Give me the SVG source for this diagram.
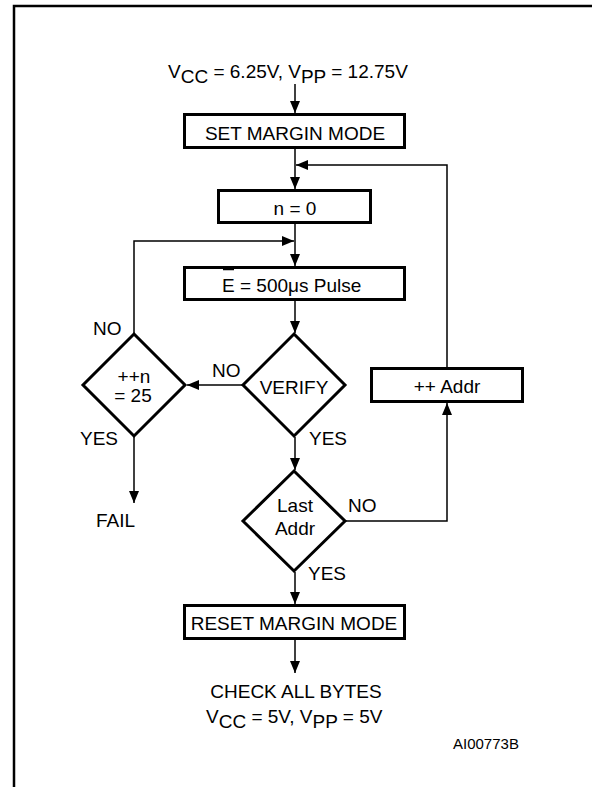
<svg xmlns="http://www.w3.org/2000/svg" width="592" height="787" viewBox="0 0 592 787">
<style>
text{font-family:"Liberation Sans",Arial,sans-serif;font-size:19px;fill:#000}
.box{fill:#fff;stroke:#000;stroke-width:3}
.c{fill:none;stroke:#000;stroke-width:1.5}
.m{text-anchor:middle}
</style>
<defs>
<marker id="ah" markerUnits="userSpaceOnUse" markerWidth="12" markerHeight="10" refX="12" refY="5" orient="auto">
<path d="M0,0 L12,5 L0,10 Z" fill="#000"/>
</marker>
</defs>
<rect x="14" y="6" width="600" height="800" fill="none" stroke="#000" stroke-width="2.5"/>

<g id="title">
<text x="168" y="78">V<tspan dy="5">CC</tspan><tspan dy="-5"> = 6.25V, V</tspan><tspan dy="5">PP</tspan><tspan dy="-5"> = 12.75V</tspan></text>
</g>

<g id="connectors">
<line class="c" x1="295" y1="84" x2="295" y2="113" marker-end="url(#ah)"/>
<line class="c" x1="295" y1="149" x2="295" y2="189" marker-end="url(#ah)"/>
<polyline class="c" points="447,367 447,165 296,165" marker-end="url(#ah)"/>
<line class="c" x1="295" y1="224" x2="295" y2="266" marker-end="url(#ah)"/>
<polyline class="c" points="134,333 134,241 294,241" marker-end="url(#ah)"/>
<line class="c" x1="295" y1="301" x2="295" y2="333" marker-end="url(#ah)"/>
<line class="c" x1="243" y1="385" x2="187" y2="385" marker-end="url(#ah)"/>
<line class="c" x1="295" y1="437" x2="295" y2="470" marker-end="url(#ah)"/>
<polyline class="c" points="345,521 447,521 447,403" marker-end="url(#ah)"/>
<line class="c" x1="295" y1="572" x2="295" y2="604" marker-end="url(#ah)"/>
<line class="c" x1="295" y1="640" x2="295" y2="673" marker-end="url(#ah)"/>
<line class="c" x1="134" y1="437" x2="134" y2="503" marker-end="url(#ah)"/>
</g>

<g id="set-margin">
<rect class="box" x="184.5" y="114.5" width="220" height="33"/>
<text class="m" x="295" y="140">SET MARGIN MODE</text>
</g>

<g id="n0">
<rect class="box" x="218.5" y="190.5" width="152" height="32"/>
<text class="m" x="295" y="215">n = 0</text>
</g>

<g id="pulse">
<rect class="box" x="184.5" y="267.5" width="220" height="32"/>
<text x="222" y="292">E = 500μs Pulse</text>
<line x1="223" y1="269.5" x2="234" y2="269.5" stroke="#000" stroke-width="1.5"/>
</g>

<g id="verify">
<polygon class="box" points="294,334 345,385 294,436 243,385"/>
<text class="m" x="294" y="394">VERIFY</text>
<text x="212" y="377">NO</text>
<text x="309" y="445">YES</text>
</g>

<g id="incn">
<polygon class="box" points="134,334 185,385 134,436 83,385"/>
<text class="m" x="134" y="383">++n</text>
<text class="m" x="133" y="402">= 25</text>
<text x="93" y="335">NO</text>
<text x="80" y="445">YES</text>
</g>

<g id="fail">
<text x="96" y="527">FAIL</text>
</g>

<g id="lastaddr">
<polygon class="box" points="294,471 345,521 294,571 243,521"/>
<text class="m" x="295" y="512">Last</text>
<text class="m" x="295" y="535">Addr</text>
<text x="348" y="512">NO</text>
<text x="308" y="580">YES</text>
</g>

<g id="incaddr">
<rect class="box" x="371.5" y="368.5" width="151" height="33"/>
<text class="m" x="447" y="393">++ Addr</text>
</g>

<g id="reset">
<rect class="box" x="184.5" y="605.5" width="220" height="33"/>
<text class="m" x="294" y="630">RESET MARGIN MODE</text>
</g>

<g id="check">
<text class="m" x="296" y="698">CHECK ALL BYTES</text>
<text x="206" y="723">V<tspan dy="5">CC</tspan><tspan dy="-5"> = 5V, V</tspan><tspan dy="5">PP</tspan><tspan dy="-5"> = 5V</tspan></text>
</g>

<g id="ref">
<text x="453" y="749" style="font-size:15px">AI00773B</text>
</g>
</svg>
